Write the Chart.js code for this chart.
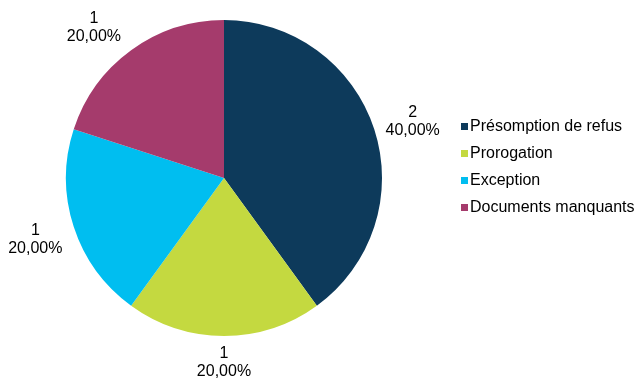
<!DOCTYPE html>
<html lang="fr">
<head>
  <meta charset="UTF-8" />
  <title>Répartition</title>
  <script src="https://cdn.jsdelivr.net/npm/chart.js"></script>
  <style>
    html, body { margin: 0; padding: 0; background: #fff; }
    .wrap { width: 635px; height: 381px; position: relative; }
  </style>
</head>
<body>
  <div class="wrap"><canvas id="pie"></canvas></div>
  <script>
    const categories = ["Présomption de refus", "Prorogation", "Exception", "Documents manquants"];
    const counts = [2, 1, 1, 1];
    const percentLabels = ["40,00%", "20,00%", "20,00%", "20,00%"];
    const colors = ["#0d3a5b", "#c4d940", "#00bef0", "#a53b6c"];

    const FONT = '16px "Liberation Sans", Arial, sans-serif';

    // value + percentage written outside each slice
    const nudge = [[0, 5], [0, 0], [0, 0], [-14, 9]];
    const outsideLabels = {
      id: "outsideLabels",
      afterDatasetsDraw(chart) {
        const ctx = chart.ctx;
        const arcs = chart.getDatasetMeta(0).data;
        ctx.save();
        ctx.font = FONT;
        ctx.fillStyle = "#000";
        ctx.textAlign = "center";
        ctx.textBaseline = "middle";
        arcs.forEach((arc, i) => {
          const p = arc.getProps(["x", "y", "startAngle", "endAngle", "outerRadius"], true);
          const mid = (p.startAngle + p.endAngle) / 2;
          const c = Math.cos(mid), s = Math.sin(mid);
          const w = Math.max(ctx.measureText(String(counts[i])).width, ctx.measureText(percentLabels[i]).width);
          const ext = Math.abs(c) * w / 2 + Math.abs(s) * 18;
          const r = p.outerRadius + 9 + ext;
          const x = p.x + c * r + nudge[i][0], y = p.y + s * r + nudge[i][1];
          ctx.fillText(String(counts[i]), x, y - 9);
          ctx.fillText(percentLabels[i], x, y + 9);
        });
        ctx.restore();
      }
    };

    const sideLegend = {
      id: "sideLegend",
      afterDraw(chart) {
        const ctx = chart.ctx;
        ctx.save();
        ctx.font = FONT;
        ctx.textBaseline = "middle";
        chart.data.labels.forEach((lab, i) => {
          const y = 127 + i * 27;
          ctx.fillStyle = colors[i];
          ctx.fillRect(461, y - 4, 7, 7);
          ctx.fillStyle = "#000";
          ctx.fillText(lab, 470, y);
        });
        ctx.restore();
      }
    };

    new Chart(document.getElementById("pie"), {
      type: "pie",
      data: {
        labels: categories,
        datasets: [{ data: counts, backgroundColor: colors, borderWidth: 0 }]
      },
      options: {
        responsive: true,
        maintainAspectRatio: false,
        animation: false,
        layout: { padding: { top: 20, bottom: 45, left: 66, right: 253 } },
        plugins: { legend: { display: false }, tooltip: { enabled: false } }
      },
      plugins: [outsideLabels, sideLegend]
    });
  </script>
</body>
</html>
